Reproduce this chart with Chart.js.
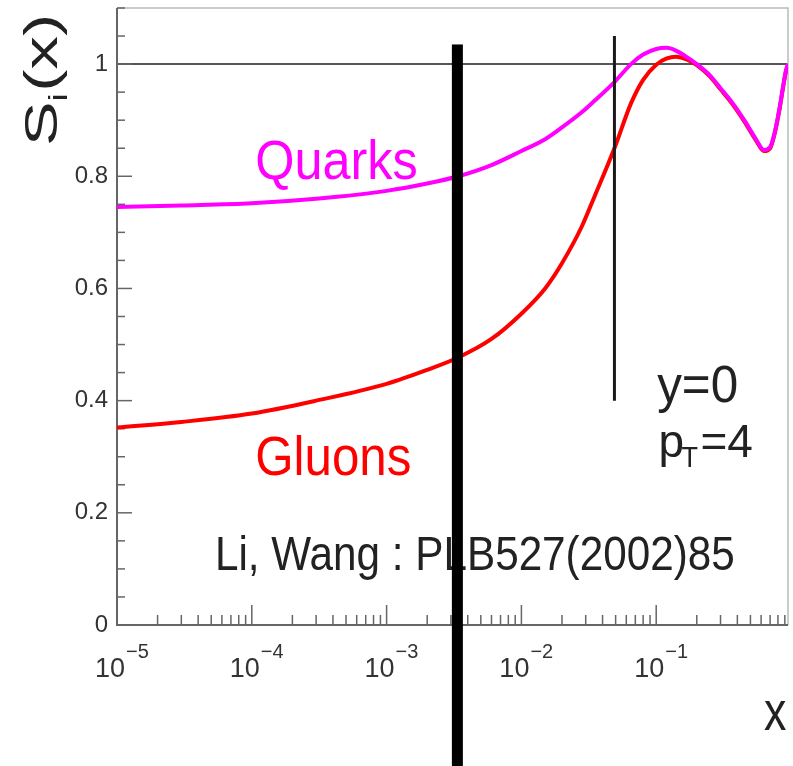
<!DOCTYPE html>
<html>
<head>
<meta charset="utf-8">
<script src="https://cdn.jsdelivr.net/npm/chart.js@4.4.1/dist/chart.umd.min.js"></script>
<style>
html, body { margin: 0; padding: 0; background: #fff; }
#wrap { width: 793px; height: 766px; }
</style>
</head>
<body>
<div id="wrap"><canvas id="sChart" width="793" height="766"></canvas></div>
<script>
// values
const xValues = [1e-5, 3e-5, 1e-4, 3e-4, 1e-3, 2e-3, 3.4e-3, 6e-3, 1e-2, 1.5e-2, 2e-2, 2.8e-2, 3.5e-2,
    4.9e-2, 6.5e-2, 8e-2, 0.1, 0.12, 0.14, 0.17, 0.2, 0.25, 0.3, 0.37, 0.45, 0.55, 0.63, 0.7, 0.76,
    0.82, 0.88, 0.92, 0.95];
const quarks = [0.745, 0.748, 0.752, 0.76, 0.774, 0.787, 0.80, 0.82, 0.845, 0.866, 0.887, 0.914, 0.935,
    0.968, 1.0, 1.017, 1.027, 1.029, 1.024, 1.012, 1.0, 0.98, 0.957, 0.93, 0.90, 0.866, 0.847, 0.852, 0.88,
    0.92, 0.965, 0.99, 1.0];
const gluons = [0.352, 0.362, 0.377, 0.40, 0.43, 0.455, 0.477, 0.51, 0.555, 0.60, 0.645, 0.71, 0.765,
    0.85, 0.93, 0.972, 0.999, 1.01, 1.013, 1.008, 0.998, 0.978, 0.955, 0.928, 0.898, 0.864, 0.845, 0.85, 0.878,
    0.918, 0.963, 0.988, 0.998];
const xTickPowers = [-5, -4, -3, -2, -1];
const yTickLabels = ['0', '0.2', '0.4', '0.6', '0.8', '1'];

const FONT = '"Liberation Sans", Arial, sans-serif';

function toPoints(ys) {
    return xValues.map((x, i) => ({ x: x, y: ys[i] }));
}

function stretchedText(ctx, text, x, y, size, sx, color, align) {
    ctx.save();
    ctx.font = size + 'px ' + FONT;
    ctx.fillStyle = color;
    ctx.textBaseline = 'alphabetic';
    ctx.translate(x, y);
    ctx.scale(sx, 1);
    ctx.textAlign = align || 'left';
    ctx.fillText(text, 0, 0);
    ctx.restore();
}

const framePlugin = {
    id: 'frame',
    beforeDatasetsDraw(chart) {
        const { ctx, chartArea: a, scales: { x, y } } = chart;
        ctx.save();
        // y = 1 reference line
        const y1 = y.getPixelForValue(1);
        ctx.strokeStyle = '#555';
        ctx.lineWidth = 2;
        ctx.beginPath();
        ctx.moveTo(a.left, y1);
        ctx.lineTo(a.right, y1);
        ctx.stroke();

        // top and right border
        ctx.strokeStyle = '#bbb';
        ctx.lineWidth = 1.5;
        ctx.beginPath();
        ctx.moveTo(a.left, a.top);
        ctx.lineTo(a.right, a.top);
        ctx.lineTo(a.right, a.bottom);
        ctx.stroke();

        // left and bottom axes
        ctx.strokeStyle = '#666';
        ctx.lineWidth = 2;
        ctx.beginPath();
        ctx.moveTo(a.left, a.top);
        ctx.lineTo(a.left, a.bottom);
        ctx.lineTo(a.right, a.bottom);
        ctx.stroke();

        // ticks drawn inward, ROOT style
        ctx.lineWidth = 1.5;
        y.ticks.forEach(t => {
            const py = y.getPixelForValue(t.value);
            const major = yTickLabels.some(l => Math.abs(Number(l) - t.value) < 1e-6);
            ctx.beginPath();
            ctx.moveTo(a.left, py);
            ctx.lineTo(a.left + (major ? 15 : 8), py);
            ctx.stroke();
        });
        xTickPowers.forEach(p => {
            for (let m = 1; m <= 9; m++) {
                const v = m * Math.pow(10, p);
                if (v > x.max) break;
                const px = x.getPixelForValue(v);
                ctx.beginPath();
                ctx.moveTo(px, a.bottom);
                ctx.lineTo(px, a.bottom - (m === 1 ? 20 : 10));
                ctx.stroke();
            }
        });

        // x tick labels 10^n
        xTickPowers.forEach(p => {
            const px = x.getPixelForValue(Math.pow(10, p));
            ctx.fillStyle = '#333';
            ctx.font = '27px ' + FONT;
            ctx.textAlign = 'right';
            ctx.textBaseline = 'alphabetic';
            ctx.fillText('10', px + 8, a.bottom + 52);
            ctx.font = '20px ' + FONT;
            ctx.textAlign = 'left';
            ctx.fillText('\u2212' + (-p), px + 9, a.bottom + 33);
        });
        ctx.restore();
    },
    afterDatasetsDraw(chart) {
        const { ctx, chartArea: a, scales: { x, y } } = chart;
        ctx.save();
        // vertical line near x = 0.049
        const vx = x.getPixelForValue(0.049);
        ctx.strokeStyle = '#1a1a1a';
        ctx.lineWidth = 3;
        ctx.beginPath();
        ctx.moveTo(vx, y.getPixelForValue(1.05));
        ctx.lineTo(vx, y.getPixelForValue(0.4));
        ctx.stroke();

        // texts
        stretchedText(ctx, 'Quarks', x.getPixelForValue(1.06e-4), y.getPixelForValue(0.795), 56, 0.9, '#ff00ff');
        stretchedText(ctx, 'Gluons', x.getPixelForValue(1.06e-4), y.getPixelForValue(0.268), 56, 0.88, '#ff0000');
        stretchedText(ctx, 'y=0', x.getPixelForValue(0.1016), y.getPixelForValue(0.397), 52, 0.95, '#222');
        // p_T = 4
        const pX = x.getPixelForValue(0.104), pY = y.getPixelForValue(0.299);
        stretchedText(ctx, 'p', pX, pY, 46, 1.0, '#222');
        stretchedText(ctx, 'T', pX + 23, pY + 10, 30, 0.9, '#222');
        stretchedText(ctx, '=4', pX + 42, pY, 46, 1.0, '#222');
        stretchedText(ctx, 'Li, Wang : PLB527(2002)85', x.getPixelForValue(5.33e-5), y.getPixelForValue(0.098), 48, 0.88, '#222');

        // axis titles
        ctx.save();
        ctx.translate(57, 146);
        ctx.rotate(-Math.PI / 2);
        ctx.scale(1.45, 1);
        ctx.fillStyle = '#222';
        ctx.textAlign = 'left';
        ctx.textBaseline = 'alphabetic';
        ctx.font = '46px ' + FONT;
        ctx.fillText('S', 0, 0);
        let w = ctx.measureText('S').width;
        ctx.font = '26px ' + FONT;
        ctx.fillText('i', w, 10);
        w += ctx.measureText('i').width + 1;
        ctx.font = '46px ' + FONT;
        ctx.fillText('(x)', w, 0);
        ctx.restore();
        stretchedText(ctx, 'x', 764, 730, 56, 0.8, '#222');

        // thick black bar over the figure
        const bx = x.getPixelForValue(0.00335);
        const bTop = y.getPixelForValue(1.035);
        ctx.fillStyle = '#000';
        ctx.fillRect(bx - 5.5, bTop, 11, chart.height - bTop);
        ctx.restore();
    }
};

new Chart(document.getElementById('sChart'), {
    type: 'line',
    data: {
        datasets: [{
            label: 'Quarks',
            data: toPoints(quarks),
            borderColor: '#ff00ff',
            borderWidth: 4,
            pointRadius: 0,
            cubicInterpolationMode: 'monotone',
            fill: false
        }, {
            label: 'Gluons',
            data: toPoints(gluons),
            borderColor: '#ff0000',
            borderWidth: 4,
            pointRadius: 0,
            cubicInterpolationMode: 'monotone',
            fill: false
        }]
    },
    options: {
        responsive: false,
        animation: false,
        devicePixelRatio: 1,
        layout: { padding: { top: 8, right: 5, left: 0, bottom: 0 } },
        plugins: {
            legend: { display: false },
            tooltip: { enabled: false }
        },
        scales: {
            x: {
                type: 'logarithmic',
                min: 1e-5,
                max: 0.95,
                grid: { display: false, drawTicks: false },
                border: { display: false },
                ticks: { display: false },
                afterFit(scale) {
                    scale.height = 141;
                    scale.paddingLeft = 0;
                    scale.paddingRight = 0;
                }
            },
            y: {
                min: 0,
                max: 1.1,
                grid: { display: false, drawTicks: false },
                border: { display: false },
                ticks: {
                    stepSize: 0.05,
                    autoSkip: false,
                    padding: 9,
                    color: '#333',
                    font: { family: FONT, size: 24 },
                    callback(value) {
                        const l = yTickLabels.find(s => Math.abs(Number(s) - value) < 1e-6);
                        return l === undefined ? '' : l;
                    }
                },
                afterFit(scale) {
                    scale.width = 117;
                    scale.paddingTop = 0;
                    scale.paddingBottom = 0;
                }
            }
        }
    },
    plugins: [framePlugin]
});
</script>
</body>
</html>
